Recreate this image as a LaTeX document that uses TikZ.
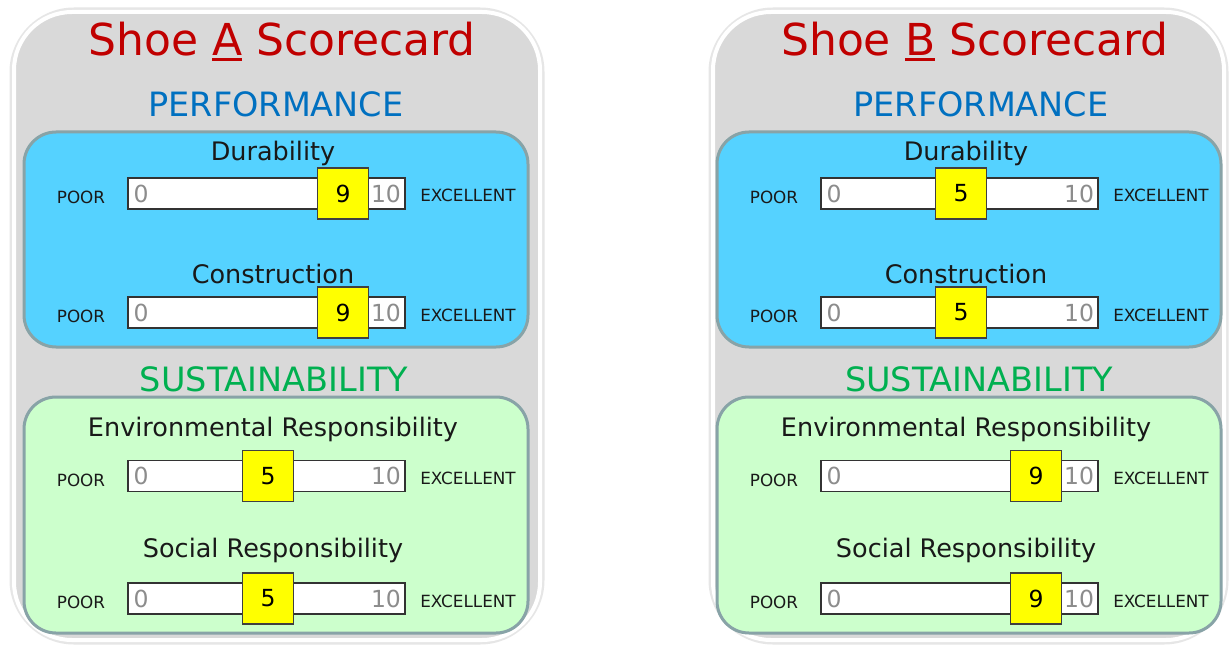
\documentclass[tikz,border=0pt]{standalone}
\usepackage{fontspec}
\setmainfont{DejaVu Sans}
\definecolor{cardgray}{HTML}{D9D9D9}
\definecolor{glowgray}{HTML}{E6E6E6}
\definecolor{panelblue}{HTML}{55D2FF}
\definecolor{panelgreen}{HTML}{CCFFCC}
\definecolor{panelborder}{HTML}{88A3A7}
\definecolor{titlered}{HTML}{C00000}
\definecolor{perfblue}{HTML}{0070C0}
\definecolor{sustgreen}{HTML}{00B050}
\definecolor{numgray}{HTML}{8C8C8C}
\definecolor{knobyellow}{HTML}{FFFF00}
\newcommand\ulined[1]{\setbox0\hbox{#1}\rlap{\rule[-5pt]{\wd0}{3pt}}\box0\relax}
\tikzset{
  every node/.style={inner sep=0pt, outer sep=0pt},
  cardglow/.style={draw=glowgray, line width=9pt, rounded corners=60pt},
  cardbg/.style={fill=cardgray, draw=white, line width=4pt, rounded corners=58pt},
  panel/.style={draw=panelborder, line width=3pt, rounded corners=32pt},
  titletext/.style={text=titlered, font=\fontsize{44}{50}\selectfont, anchor=base},
  headtext/.style={font=\fontsize{33.5}{40}\selectfont, anchor=base},
  rowlabel/.style={text=black!90, font=\fontsize{25.5}{30}\selectfont, anchor=base},
  smalltext/.style={text=black!90, font=\fontsize{16.8}{20}\selectfont, anchor=base},
  barbox/.style={draw=black!80, line width=1.3pt, fill=white, minimum width=277pt, minimum height=31pt},
  numtext/.style={text=numgray, font=\fontsize{23.5}{28}\selectfont},
  knob/.style={draw=black!75, line width=1.2pt, fill=knobyellow, minimum width=51pt, minimum height=51pt, font=\fontsize{23.5}{28}\selectfont}
}
% #1 name, #2 label text, #3 label baseline y, #4 bar centre y, #5 value
\newcommand\scorerow[5]{%
  \node[rowlabel] (#1-lbl) at (273,#3) {#2};
  \node[barbox] (#1-bar) at (266.5,#4) {};
  \node[numtext] (#1-zero) at (141,#4) {0};
  \node[numtext] (#1-ten) at (386,#4) {10};
  \pgfmathsetmacro\knobx{268+18.75*(#5-5)}
  \node[knob] (#1-knob) at (\knobx,#4) {#5};
  \node[smalltext] (#1-poor) at (81,#4+10) {POOR};
  \node[smalltext] (#1-exc) at (468,#4+8.5) {EXCELLENT};
}
% #1 prefix, #2 letter, #3 heading x, #4..#7 values
\newcommand\scorecard[7]{%
  \node[titletext] (#1-title) at (282,56) {Shoe \ulined{#2} Scorecard};
  \node[headtext, text=perfblue] (#1-perf) at (#3,117) {PERFORMANCE};
  \node[panel, fill=panelblue, minimum width=504pt, minimum height=215pt] (#1-pbox) at (276,239.5) {};
  \node[headtext, text=sustgreen] (#1-sust) at (#3-2,391) {SUSTAINABILITY};
  \node[panel, fill=panelgreen, minimum width=504pt, minimum height=236pt] (#1-sbox) at (276,515) {};
  \scorerow{#1-dur}{Durability}{161}{193.5}{#4}
  \scorerow{#1-con}{Construction}{283}{312.5}{#5}
  \scorerow{#1-env}{Environmental Responsibility}{436}{476}{#6}
  \scorerow{#1-soc}{Social Responsibility}{557}{598.5}{#7}
}
\begin{document}
\begin{tikzpicture}[x=1pt,y=-1pt]
\useasboundingbox (0,0) rectangle (1231,647);
\fill[white] (0,0) rectangle (1231,647);
% outer cards
\draw[cardglow] (14,12) rectangle (540,640);
\draw[cardbg] (14,12) rectangle (540,640);
\draw[cardglow] (713,12) rectangle (1224,640);
\draw[cardbg] (713,12) rectangle (1224,640);
\scorecard{A}{A}{276}{9}{9}{5}{5}
\begin{scope}[xshift=693pt]
\scorecard{B}{B}{288}{5}{5}{9}{9}
\end{scope}
\end{tikzpicture}
\end{document}
